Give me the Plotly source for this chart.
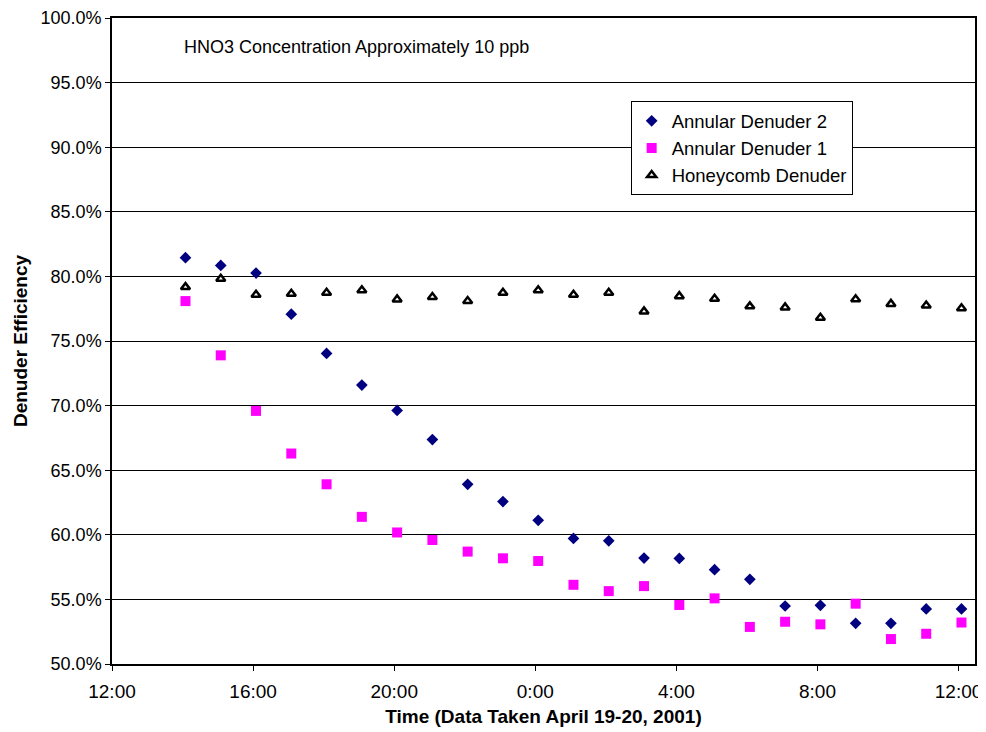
import plotly.graph_objects as go
from datetime import datetime, timedelta

# Sample times (April 19-20, 2001), hourly at :05 from 14:05 to 12:05
n_points = 23
times = [datetime(2001, 4, 19, 14, 5) + timedelta(hours=i) for i in range(n_points)]

annular2 = [81.45, 80.85, 80.26, 77.08, 74.04, 71.59, 69.63, 67.37, 63.91, 62.57, 61.12,
            59.72, 59.53, 58.20, 58.17, 57.30, 56.55, 54.49, 54.54, 53.15, 53.15, 54.26, 54.26]
annular1 = [78.09, 73.89, 69.59, 66.29, 63.91, 61.39, 60.18, 59.60, 58.70, 58.18, 57.97,
            56.13, 55.64, 56.03, 54.57, 55.08, 52.87, 53.27, 53.07, 54.67, 51.93, 52.34, 53.21]
honeycomb = [79.17, 79.82, 78.58, 78.66, 78.74, 78.92, 78.22, 78.40, 78.09, 78.74, 78.92,
             78.58, 78.74, 77.29, 78.47, 78.27, 77.68, 77.60, 76.80, 78.23, 77.87, 77.74, 77.54]

x_tick_vals = ["2001-04-19 12:00", "2001-04-19 16:00", "2001-04-19 20:00", "2001-04-20 00:00",
               "2001-04-20 04:00", "2001-04-20 08:00", "2001-04-20 12:00"]
x_tick_text = ["12:00", "16:00", "20:00", "0:00", "4:00", "8:00", "12:00"]
x_range = ["2001-04-19 12:00", "2001-04-20 12:28"]

FONT = "Liberation Sans, Arial, sans-serif"

fig = go.Figure()
fig.add_trace(go.Scatter(
    x=times, y=[v / 100 for v in annular2], mode="markers", name="Annular Denuder 2",
    marker=dict(symbol="diamond", size=9, color="#000080", line=dict(width=0)),
))
fig.add_trace(go.Scatter(
    x=times, y=[v / 100 for v in annular1], mode="markers", name="Annular Denuder 1",
    marker=dict(symbol="square", size=10, color="#FF00FF", line=dict(width=0)),
))
fig.add_trace(go.Scatter(
    x=times, y=[v / 100 for v in honeycomb], mode="markers", name="Honeycomb Denuder",
    marker=dict(symbol="triangle-up", size=8, color="white", line=dict(width=2.5, color="black")),
))

fig.update_layout(
    width=978, height=724,
    margin=dict(l=104, r=11, t=10, b=68, autoexpand=False),
    paper_bgcolor="white", plot_bgcolor="white",
    font=dict(family=FONT, size=18, color="black"),
    showlegend=True,
    legend=dict(
        x=0.601, y=0.871, xanchor="left", yanchor="top",
        bgcolor="white", bordercolor="black", borderwidth=1,
        font=dict(family=FONT, size=18.5, color="black"),
        tracegroupgap=0, itemwidth=30,
    ),
    xaxis=dict(
        range=x_range, tickmode="array", tickvals=x_tick_vals, ticktext=x_tick_text,
        showgrid=False, zeroline=False,
        showline=True, linecolor="black", linewidth=1.5, mirror=True,
        ticks="outside", ticklen=5, tickcolor="black",
        tickfont=dict(family=FONT, size=19), ticklabelstandoff=4,
        title=dict(text="<b>Time (Data Taken April 19-20, 2001)</b>",
                   font=dict(family=FONT, size=19), standoff=9),
    ),
    yaxis=dict(
        range=[0.5, 1.0], dtick=0.05, tick0=0.5, tickformat=".1%",
        showgrid=True, gridcolor="black", gridwidth=1, zeroline=False,
        showline=True, linecolor="black", linewidth=1.5, mirror=True,
        ticks="outside", ticklen=5, tickcolor="black",
        tickfont=dict(family=FONT, size=18),
        title=dict(text="<b>Denuder Efficiency</b>",
                   font=dict(family=FONT, size=19), standoff=8),
    ),
    annotations=[dict(
        text="HNO3 Concentration Approximately 10 ppb",
        xref="paper", yref="paper", x=0.081, y=0.955,
        xanchor="left", yanchor="middle", showarrow=False,
        font=dict(family=FONT, size=18, color="black"),
    )],
)

fig.write_html("out.html")
